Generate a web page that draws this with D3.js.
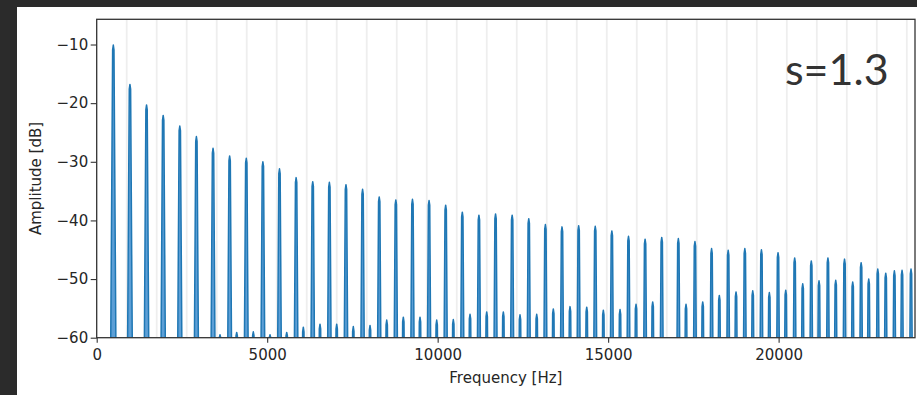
<!DOCTYPE html>
<html>
<head>
<meta charset="utf-8">
<script src="https://cdn.jsdelivr.net/npm/d3@7/dist/d3.min.js"></script>
<style>
  html, body { margin: 0; padding: 0; background: #2b2b2b; }
  svg { display: block; }
  .tick text { font-family: "DejaVu Sans", sans-serif; font-size: 15px; fill: #262626; }
  .tick line { stroke: #333; stroke-width: 1.1; }
</style>
</head>
<body>
<svg id="chart" width="917" height="395"></svg>
<script>
// Harmonic peaks of the spectrum (frequency in Hz, level in dB)
const harmonicFreqs = [487, 975, 1462, 1950, 2437, 2924, 3412, 3899, 4387, 4874,
  5361, 5849, 6336, 6824, 7311, 7798, 8286, 8773, 9261, 9748,
  10235, 10723, 11210, 11698, 12185, 12672, 13160, 13647, 14135, 14622,
  15109, 15597, 16084, 16572, 17059, 17546, 18034, 18521, 19009, 19496,
  19983, 20471, 20958, 21446, 21933, 22420, 22908, 23395, 23883];
const harmonicDb = [-10.1, -16.8, -20.3, -22.1, -23.9, -25.7, -27.7, -29.0, -29.4, -30.0,
  -31.2, -32.7, -33.4, -33.5, -33.9, -34.7, -36.0, -36.5, -36.4, -36.6,
  -37.4, -38.6, -39.1, -38.9, -39.1, -39.7, -40.7, -41.1, -40.9, -41.0,
  -41.8, -42.7, -43.2, -42.9, -43.1, -43.6, -44.8, -45.1, -44.8, -45.0,
  -45.5, -46.4, -46.9, -46.4, -46.6, -47.2, -48.3, -48.6, -48.3];

// Weaker side components sitting just above each harmonic
const sideFreqs = [3616, 4106, 4593, 5083, 5573, 6060, 6549, 7039, 7526, 8016,
  8506, 8993, 9482, 9972, 10459, 10949, 11439, 11926, 12415, 12905,
  13392, 13882, 14372, 14859, 15349, 15818, 16307, 17284, 17774, 18261,
  18751, 19241, 19728, 20209, 20707, 21185, 21675, 22173, 22643, 23142, 23620];
const sideDb = [-59.5, -59.1, -59.0, -59.5, -59.1, -58.2, -57.7, -57.7, -58.1, -57.9,
  -57.0, -56.5, -56.5, -57.0, -56.9, -56.0, -55.6, -55.6, -56.1, -56.0,
  -55.1, -54.7, -54.8, -55.3, -55.2, -54.3, -53.9, -54.3, -53.9, -52.8,
  -52.2, -52.0, -52.3, -51.9, -50.8, -50.3, -50.2, -50.5, -50.0, -49.0, -48.5];

// Vertical reference lines (Hz)
const gridFreqs = [880, 1760, 2640, 3520, 4400, 5280, 6160, 7040, 7920, 8800,
  9680, 10560, 11440, 12320, 13200, 14080, 14960, 15840, 16720, 17600,
  18480, 19360, 20240, 21120, 22000, 22880, 23760];

const xTicks = [0, 5000, 10000, 15000, 20000];
const yTicks = [-60, -50, -40, -30, -20, -10];

const W = 917, H = 395;
const plot = { left: 96.7, right: 915, top: 19.3, bottom: 337.7 };

const svg = d3.select("#chart");

// page background and white figure panel
svg.append("rect").attr("width", W).attr("height", H).attr("fill", "#2b2b2b");
svg.append("rect").attr("x", 17).attr("y", 7).attr("width", W - 17).attr("height", H - 7).attr("fill", "#ffffff");

const x = d3.scaleLinear().domain([0, 24000]).range([plot.left, plot.right]);
const y = d3.scaleLinear().domain([-60, -5.7]).range([plot.bottom, plot.top]);

svg.append("defs").append("clipPath").attr("id", "plotClip")
  .append("rect")
  .attr("x", plot.left).attr("y", plot.top)
  .attr("width", plot.right - plot.left).attr("height", plot.bottom - plot.top);

// grid lines
svg.append("g")
  .selectAll("line").data(gridFreqs).join("line")
  .attr("x1", d => x(d)).attr("x2", d => x(d))
  .attr("y1", plot.top).attr("y2", plot.bottom)
  .attr("stroke", "#eeeeee").attr("stroke-width", 1.8);

// spectrum: every peak is a narrow lobe rising from below the floor
const floorDb = -61;
const lobeTopHz = 20;      // half-width just under the tip
const lobeHzPerDb = 1.1;   // further widening toward the floor
const peaks = harmonicFreqs.map((f, i) => ({ f, db: harmonicDb[i] }))
  .concat(sideFreqs.map((f, i) => ({ f, db: sideDb[i] })))
  .sort((a, b) => a.f - b.f);

const pts = [[0, floorDb]];
peaks.forEach(p => {
  const depth = p.db - floorDb;
  const hw = lobeTopHz + lobeHzPerDb * depth;
  const shoulder = Math.min(0.8, depth * 0.3);
  pts.push(
    [p.f - hw, floorDb],
    [p.f - lobeTopHz, p.db - shoulder],
    [p.f, p.db],
    [p.f + lobeTopHz, p.db - shoulder],
    [p.f + hw, floorDb]
  );
});
pts.push([24000, floorDb]);

const line = d3.line().x(d => x(d[0])).y(d => y(d[1]));

svg.append("path")
  .attr("clip-path", "url(#plotClip)")
  .attr("d", line(pts))
  .attr("fill", "#5d9fd6")
  .attr("stroke", "#1f77b4")
  .attr("stroke-width", 1.5)
  .attr("stroke-linejoin", "round");

// axes
const xAxis = d3.axisBottom(x).tickValues(xTicks).tickFormat(d3.format("d"))
  .tickSize(5).tickPadding(7);
const yAxis = d3.axisLeft(y).tickValues(yTicks).tickFormat(d3.format("d"))
  .tickSize(6).tickPadding(2.5);

const gx = svg.append("g").attr("transform", `translate(0,${plot.bottom})`).call(xAxis);
const gy = svg.append("g").attr("transform", `translate(${plot.left},0)`).call(yAxis);
gx.select(".domain").remove();
gy.select(".domain").remove();

// frame
svg.append("rect")
  .attr("x", plot.left).attr("y", plot.top)
  .attr("width", plot.right - plot.left).attr("height", plot.bottom - plot.top)
  .attr("fill", "none").attr("stroke", "#333").attr("stroke-width", 1.3);

// axis labels
svg.append("text")
  .attr("x", (plot.left + plot.right) / 2).attr("y", 383)
  .attr("text-anchor", "middle")
  .attr("font-family", "DejaVu Sans, sans-serif").attr("font-size", 15)
  .attr("fill", "#262626")
  .text("Frequency [Hz]");

svg.append("text")
  .attr("transform", `translate(41,${(plot.top + plot.bottom) / 2}) rotate(-90)`)
  .attr("text-anchor", "middle")
  .attr("font-family", "DejaVu Sans, sans-serif").attr("font-size", 15)
  .attr("fill", "#262626")
  .text("Amplitude [dB]");

// annotation
svg.append("text")
  .attr("x", 785).attr("y", 85)
  .attr("font-family", "Lato, sans-serif").attr("font-size", 43)
  .attr("fill", "#333333")
  .text("s=1.3");
</script>
</body>
</html>
